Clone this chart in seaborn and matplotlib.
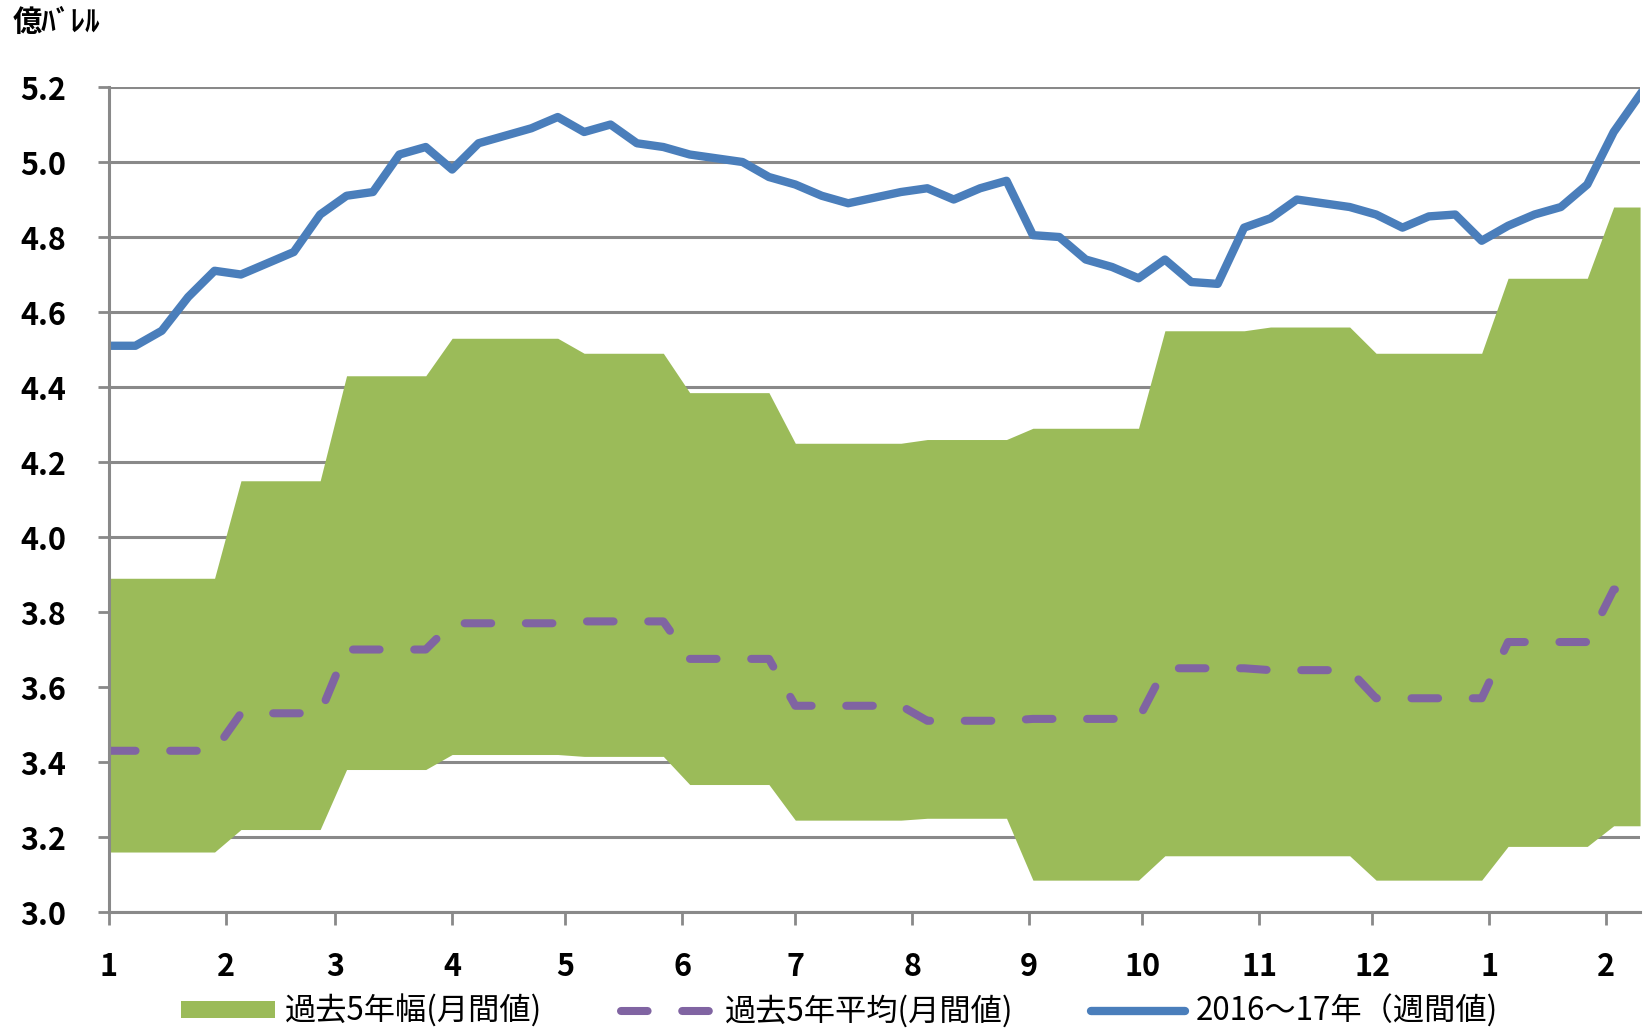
import pandas as pd
import numpy as np
import seaborn as sns
import matplotlib.pyplot as plt
import matplotlib.dates as mdates
from matplotlib.patches import Patch
from matplotlib.lines import Line2D

# データ (億バレル)
# 週次 2016/1/1 ～ 2017/2/10
week_start = '2016-01-01'
weekly_stock = [4.51, 4.51, 4.55, 4.64, 4.71, 4.70, 4.73, 4.76, 4.86, 4.91,
                4.92, 5.02, 5.04, 4.98, 5.05, 5.07, 5.09, 5.12, 5.08, 5.10,
                5.05, 5.04, 5.02, 5.01, 5.00, 4.96, 4.94, 4.91, 4.89, 4.905,
                4.92, 4.93, 4.90, 4.93, 4.95, 4.805, 4.80, 4.74, 4.72, 4.69,
                4.74, 4.68, 4.675, 4.825, 4.85, 4.90, 4.89, 4.88, 4.86, 4.825,
                4.855, 4.86, 4.79, 4.83, 4.86, 4.88, 4.94, 5.08, 5.18]

# 月次 (過去5年) 2016/1 ～ 2017/2
months = ['2016-01', '2016-02', '2016-03', '2016-04', '2016-05', '2016-06', '2016-07',
          '2016-08', '2016-09', '2016-10', '2016-11', '2016-12', '2017-01', '2017-02']
range_low = [3.16, 3.22, 3.38, 3.42, 3.415, 3.34, 3.245, 3.25, 3.085, 3.15, 3.15, 3.085, 3.175, 3.23]
range_high = [3.89, 4.15, 4.43, 4.53, 4.49, 4.385, 4.25, 4.26, 4.29, 4.55, 4.56, 4.49, 4.69, 4.88]
avg_5y = [3.43, 3.53, 3.70, 3.77, 3.775, 3.675, 3.55, 3.51, 3.515, 3.65, 3.645, 3.57, 3.72, 3.86]

label_range = '過去5年幅(月間値)'
label_avg = '過去5年平均(月間値)'
label_week = '2016～17年（週間値)'

# 週次テーブルに月次値を割り当て
dates = pd.date_range(week_start, periods=len(weekly_stock), freq='7D')
df = pd.DataFrame({'date': dates, 'stock': weekly_stock})
df['month'] = df['date'].dt.strftime('%Y-%m')
df_m = pd.DataFrame({'month': months, 'low': range_low, 'high': range_high, 'avg': avg_5y})
df = df.merge(df_m, on='month', how='left')

green = '#9BBB59'
purple = '#8064A2'
blue = '#4A7EBB'
grey = '#898989'

plt.rcParams['font.family'] = ['Noto Sans CJK JP', 'DejaVu Sans']

fig = plt.figure(figsize=(16.46, 10.31), dpi=100)
ax = fig.add_axes([0.0662, 0.1154, 0.9302, 0.8002])

# 過去5年幅
ax.fill_between(df['date'], df['low'], df['high'], color=green, linewidth=0, zorder=2)

# 過去5年平均
sns.lineplot(data=df, x='date', y='avg', ax=ax, color=purple, linewidth=5.8, zorder=3)
ln = ax.lines[-1]
ln.set_dashes((3.3, 4.3))
ln.set_dash_capstyle('round')

# 週間値
sns.lineplot(data=df, x='date', y='stock', ax=ax, color=blue, linewidth=6, zorder=4)
ax.lines[-1].set_solid_joinstyle('round')

# 軸
ax.set_xlim(pd.Timestamp('2016-01-01'), pd.Timestamp('2017-02-10'))
ax.set_ylim(3.0, 5.2)
ax.set_yticks(np.arange(3.0, 5.21, 0.2))
ax.yaxis.set_major_formatter(plt.FuncFormatter(lambda v, p: f'{v:.1f}'))
ax.xaxis.set_major_locator(mdates.MonthLocator())
ax.xaxis.set_major_formatter(plt.FuncFormatter(lambda v, p: str(mdates.num2date(v).month)))
ax.set_xlabel('')
ax.set_ylabel('')

ax.grid(axis='y', color=grey, linewidth=2.2, zorder=1)
ax.grid(axis='x', visible=False)
ax.set_axisbelow(True)
for s in ['top', 'right']:
    ax.spines[s].set_visible(False)
for s in ['left', 'bottom']:
    ax.spines[s].set_color(grey)
    ax.spines[s].set_linewidth(2.2)
    ax.spines[s].set_zorder(5)

ax.tick_params(axis='y', length=8, width=2, color=grey, pad=23, labelsize=22)
ax.tick_params(axis='x', length=9, width=2, color=grey, pad=19, labelsize=22)
for t in ax.get_xticklabels() + ax.get_yticklabels():
    t.set_fontweight('bold')

# 単位
fig.text(0.008, 1 - 22 / 1031, '億ﾊﾞﾚﾙ', ha='left', va='center', fontsize=21, fontweight='bold')

# 凡例
handles = [
    Patch(facecolor=green, edgecolor='none'),
    Line2D([], [], color=purple, linewidth=5.8, dashes=(3.3, 4.3), dash_capstyle='round'),
    Line2D([], [], color=blue, linewidth=6, solid_capstyle='round'),
]
fig.legend(handles, [label_range, label_avg, label_week], loc='lower center',
           bbox_to_anchor=(0.51, -0.024), ncol=3, frameon=False, fontsize=22.5,
           handlelength=3.0, handleheight=0.5, handletextpad=0.33, columnspacing=2.5)

plt.savefig('out.png', dpi=100)
